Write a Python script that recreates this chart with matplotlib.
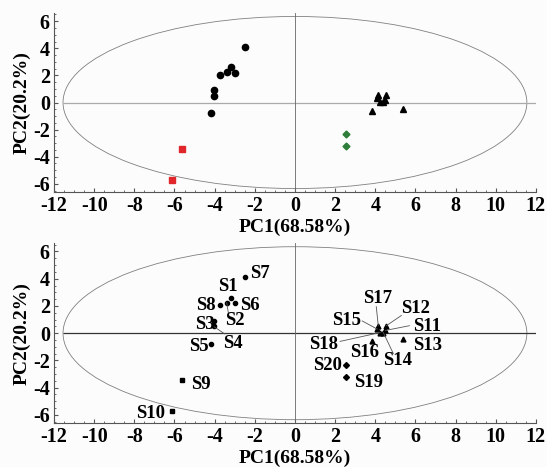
import matplotlib
matplotlib.use('Agg')
import matplotlib.pyplot as plt
from matplotlib.patches import Ellipse
from matplotlib.ticker import MultipleLocator

plt.rcParams['font.family'] = ['Liberation Serif', 'DejaVu Serif']
plt.rcParams['font.weight'] = 'bold'
plt.rcParams['axes.unicode_minus'] = False

# sample names and PCA scores
samples = ['S%d' % i for i in range(1, 21)]
pc1 = [-3.2, -3.4, -4.05, -4.05, -4.2, -3.0, -2.5, -3.75, -5.6, -6.1,
       4.5, 4.55, 5.4, 4.4, 4.1, 3.85, 4.15, 4.25, 2.55, 2.55]
pc2 = [2.6, 2.25, 0.9, 0.5, -0.8, 2.2, 4.1, 2.05, -3.45, -5.7,
       0.2, 0.55, -0.45, 0.05, 0.3, -0.6, 0.55, 0.05, -3.2, -2.35]
groups = [0] * 8 + [1] * 2 + [2] * 8 + [3] * 2

group_marker = ['o', 's', '^', 'D']
group_color = ['black', '#e0262b', 'black', '#2e7d3a']
top_size = [4.5, 4, 5, 3.5]
bot_size = [3, 3, 3.5, 3]

# label text position, leader line or not
label_pos = {
    'S1': (-3.35, 3.4, False), 'S2': (-3.0, 0.9, True), 'S3': (-4.5, 0.65, False),
    'S4': (-3.1, -0.75, True), 'S5': (-4.8, -1.0, False), 'S6': (-2.25, 2.0, False),
    'S7': (-1.75, 4.4, False), 'S8': (-4.45, 2.0, False), 'S9': (-4.7, -3.75, False),
    'S10': (-7.2, -5.9, False), 'S11': (6.6, 0.5, True), 'S12': (6.0, 1.85, True),
    'S13': (6.6, -0.9, False), 'S14': (5.1, -2.0, True), 'S15': (2.55, 0.9, True),
    'S16': (3.45, -1.4, False), 'S17': (4.1, 2.55, True), 'S18': (1.45, -0.85, True),
    'S19': (3.65, -3.6, False), 'S20': (1.6, -2.35, False),
}
# where the leader line leaves the text
leader_start = {
    'S2': (-3.3, 1.35), 'S4': (-3.5, -0.05), 'S11': (5.7, 0.55), 'S12': (5.3, 1.3),
    'S14': (4.9, -1.5), 'S15': (3.35, 0.9), 'S17': (4.05, 1.95), 'S18': (2.25, -0.6),
}

fig = plt.figure(figsize=(5.47, 4.67), dpi=100)
fig.patch.set_facecolor('#fcfcfc')
ax1 = fig.add_axes([0.0987, 0.589, 0.881, 0.383])
ax2 = fig.add_axes([0.0987, 0.094, 0.881, 0.385])

for ax, hcol in [(ax1, '#aaaaaa'), (ax2, '#333333')]:
    ax.set_facecolor('#fcfcfc')
    ax.add_patch(Ellipse((0, 0), 23.1, 12.7, fill=False, ec='#808080', lw=0.6))
    ax.hlines(0, -11.55, 12, color=hcol, lw=0.9)
    ax.axvline(0, color='#666666', lw=0.6)
    ax.set_xlim(-12, 12)
    ax.set_ylim(-6.6, 6.6)
    ax.spines['top'].set_visible(False)
    ax.spines['right'].set_visible(False)
    ax.spines['left'].set_color('#555555')
    ax.spines['bottom'].set_color('#555555')
    ax.xaxis.set_major_locator(MultipleLocator(2))
    ax.yaxis.set_major_locator(MultipleLocator(2))
    ax.xaxis.set_minor_locator(MultipleLocator(0.5))
    ax.yaxis.set_minor_locator(MultipleLocator(0.5))
    ax.tick_params(direction='in', which='both', labelsize=14.5, pad=3, color='#555555')
    ax.tick_params(which='major', length=3)
    ax.tick_params(which='minor', length=1.5)
    ax.set_xlabel('PC1(68.58%)', fontsize=14, fontweight='bold', labelpad=2)
    ax.set_ylabel('PC2(20.2%)', fontsize=14, fontweight='bold', labelpad=2)
    for lab in ax.get_xticklabels() + ax.get_yticklabels():
        lab.set_fontweight('bold')

for g in range(4):
    xs = [pc1[i] for i in range(20) if groups[i] == g]
    ys = [pc2[i] for i in range(20) if groups[i] == g]
    ax1.plot(xs, ys, ls='none', marker=group_marker[g], color=group_color[g],
             ms=top_size[g])
    ax2.plot(xs, ys, ls='none', marker=group_marker[g], color='black', ms=bot_size[g])

for i, name in enumerate(samples):
    tx, ty, lead = label_pos[name]
    ax2.text(tx, ty, name, fontsize=13.5, fontweight='bold', ha='center', va='center')
    if lead:
        sx, sy = leader_start[name]
        ax2.plot([sx, pc1[i]], [sy, pc2[i]], color='#555555', lw=0.6)

fig.savefig('out.png', dpi=100, facecolor=fig.get_facecolor())
